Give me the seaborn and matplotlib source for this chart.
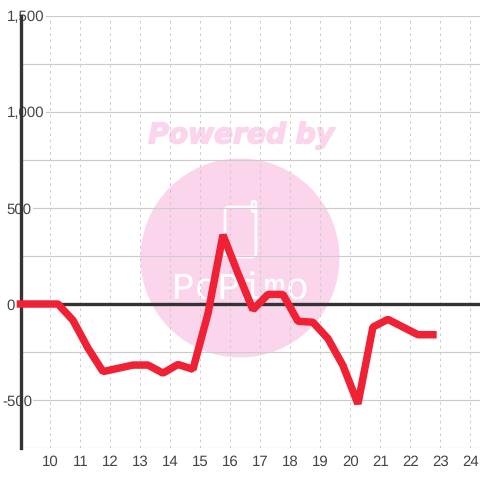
import matplotlib
matplotlib.use("Agg")
import matplotlib.pyplot as plt
import matplotlib.patheffects as pe
from matplotlib.patches import Circle, FancyBboxPatch
import pandas as pd
import seaborn as sns

hora = [9.0, 9.75, 10.25, 10.75, 11.25, 11.75, 12.25, 12.75, 13.25, 13.75, 14.25,
        14.75, 15.25, 15.75, 16.25, 16.75, 17.25, 17.75, 18.25, 18.75, 19.25,
        19.75, 20.25, 20.75, 21.25, 21.75, 22.25, 22.75]
valor = [0, 0, 0, -85, -230, -352, -335, -318, -318, -360, -315, -340, -50, 360,
         160, -30, 50, 50, -90, -95, -180, -320, -520, -120, -80, -120, -160, -160]
ticks_x = list(range(10, 25))
ticks_y = [-500, 0, 500, 1000, 1500]
etiquetas_y = ["-500", "0", "500", "1,000", "1,500"]
menores_y = [-750, -250, 250, 750, 1250]
df = pd.DataFrame({"hora": hora, "valor": valor})

sns.set_theme(style="white")
plt.rcParams["font.family"] = ["Liberation Sans", "DejaVu Sans"]
plt.rcParams["text.hinting"] = "no_hinting"
plt.rcParams["text.hinting_factor"] = 1

fig = plt.figure(figsize=(4.8, 4.8), dpi=100, facecolor="white")
ax = fig.add_axes([20.5 / 480, 32 / 480, 459.5 / 480, 432 / 480])
ax.set_zorder(2)
ax.patch.set_alpha(0)

# marca de agua en pixeles de la figura
rosa = "#fbd5ec"
fig.add_artist(Circle((240, 222), 99.5, transform=None, facecolor=rosa, edgecolor="none", zorder=0))
fig.add_artist(FancyBboxPatch((225, 223), 31, 50, boxstyle="round,pad=0,rounding_size=4", transform=None,
                              facecolor="none", edgecolor="white", lw=1.9, zorder=1))
fig.add_artist(FancyBboxPatch((252, 268), 4, 11, boxstyle="round,pad=0,rounding_size=2", transform=None,
                              facecolor="none", edgecolor="white", lw=1.7, zorder=1))
fig.text(240 / 480, 191 / 480, "PoPimo", color="white", fontsize=27.5, family="Liberation Mono",
         ha="center", va="center", zorder=1)
fig.text(241 / 480, 344.5 / 480, "Powered by", color=rosa, fontsize=20.2, fontweight="bold",
         fontstyle="italic", family="DejaVu Sans", ha="center", va="center", zorder=0,
         path_effects=[pe.withStroke(linewidth=1.2, foreground=rosa)])

ax.set_xlim(9, 24.32)
ax.set_ylim(-750, 1500)
ax.set_xticks(ticks_x)
ax.set_yticks(ticks_y)
ax.set_yticks(menores_y, minor=True)
ax.set_yticklabels(etiquetas_y)
ax.grid(axis="y", which="both", color="#cccccc", lw=0.85)
ax.grid(axis="x", color="#cccccc", lw=0.75, ls=(0, (2.5, 3.5)))
ax.set_axisbelow(True)
ax.axhline(0, color="#333333", lw=2.4, zorder=2)

sns.lineplot(data=df, x="hora", y="valor", ax=ax, color="#f02035", linewidth=5.4, zorder=3,
             clip_on=False, solid_joinstyle="bevel", solid_capstyle="projecting")
ax.set_xlabel("")
ax.set_ylabel("")

for lado in ["top", "right", "bottom"]:
    ax.spines[lado].set_visible(False)
ax.spines["left"].set_color("#333333")
ax.spines["left"].set_linewidth(2.4)
ax.spines["left"].set_zorder(1.5)

ax.tick_params(axis="x", which="both", length=0, labelsize=11, labelcolor="#444444", pad=5)
ax.tick_params(axis="y", which="both", length=0, labelsize=11, labelcolor="#444444", pad=9.8)
for t in ax.get_yticklabels():
    t.set_ha("left")
    t.set_bbox(dict(facecolor="white", edgecolor="none", pad=1))
# el signo menos queda colgando a la izquierda
ax.yaxis.get_major_ticks()[0].set_pad(13.4)

fig.savefig("out.png", dpi=100)
